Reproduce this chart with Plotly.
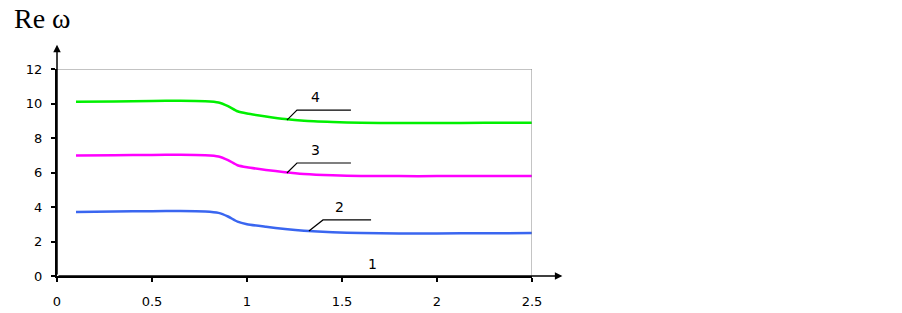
import plotly.graph_objects as go

x = [0.1, 0.3, 0.5, 0.65, 0.78, 0.85, 0.9, 0.95, 1.0, 1.1, 1.2, 1.3, 1.45, 1.6, 1.8, 2.0, 2.25, 2.5]
curve2 = [3.71, 3.74, 3.76, 3.77, 3.74, 3.66, 3.45, 3.15, 3.0, 2.85, 2.72, 2.62, 2.53, 2.49, 2.47, 2.47, 2.48, 2.49]
curve3 = [6.98, 7.0, 7.02, 7.03, 7.0, 6.93, 6.72, 6.42, 6.3, 6.15, 6.02, 5.92, 5.84, 5.8, 5.79, 5.79, 5.8, 5.8]
curve4 = [10.1, 10.12, 10.15, 10.16, 10.13, 10.06, 9.85, 9.55, 9.42, 9.25, 9.1, 9.0, 8.93, 8.88, 8.87, 8.87, 8.88, 8.89]

curve_labels = ["2", "3", "4"]
label_text_x = [1.489, 1.363, 1.363]
label_text_y = [4.0, 7.3, 10.38]
leader_x = [[1.326, 1.40, 1.653], [1.21, 1.263, 1.547], [1.21, 1.263, 1.547]]
leader_y = [[2.61, 3.25, 3.25], [5.97, 6.55, 6.55], [9.04, 9.62, 9.62]]
colors = ["#3a66f0", "#ff00ff", "#00f000"]

x_ticks = [0, 0.5, 1, 1.5, 2, 2.5]
x_tick_text = ["0", "0.5", "1", "1.5", "2", "2.5"]
y_ticks = [0, 2, 4, 6, 8, 10, 12]

L, T, R, B = 57, 69, 902 - 532, 313 - 276
PW, PH = 902 - L - R, 313 - T - B

fig = go.Figure()
for ys, c in zip([curve2, curve3, curve4], colors):
    fig.add_trace(go.Scatter(x=x, y=ys, mode="lines", line=dict(color=c, width=2.5, shape="spline", smoothing=0.6),
                             hoverinfo="skip", showlegend=False))
for lx, ly in zip(leader_x, leader_y):
    fig.add_trace(go.Scatter(x=lx, y=ly, mode="lines", line=dict(color="black", width=1.2),
                             hoverinfo="skip", showlegend=False, cliponaxis=False))

annotations = []
for t, tx, ty in zip(curve_labels, label_text_x, label_text_y):
    annotations.append(dict(x=tx, y=ty, xref="x", yref="y", text=t, showarrow=False,
                            font=dict(family="DejaVu Sans", size=14, color="black")))
annotations.append(dict(x=1.663, y=0.7, xref="x", yref="y", text="1", showarrow=False,
                        font=dict(family="DejaVu Sans", size=14, color="black")))
# axis arrows
annotations.append(dict(x=0, y=13.4, xref="x", yref="y", ax=0, ay=0, axref="x", ayref="y",
                        showarrow=True, arrowhead=2, arrowsize=1, arrowwidth=1.5, arrowcolor="black", text=""))
annotations.append(dict(x=2.66, y=0, xref="x", yref="y", ax=0, ay=0, axref="x", ayref="y",
                        showarrow=True, arrowhead=2, arrowsize=1, arrowwidth=1.5, arrowcolor="black", text=""))
annotations.append(dict(xref="paper", yref="paper", x=(12 - 57) / PW, y=1 + (69 - 1) / PH,
                        text="Re ω", showarrow=False, xanchor="left", yanchor="top",
                        font=dict(family="Liberation Serif", size=28, color="black")))

fig.update_layout(
    width=902, height=313,
    margin=dict(l=L, r=R, t=T, b=B, autoexpand=False),
    plot_bgcolor="white", paper_bgcolor="white",
    annotations=annotations,
    xaxis=dict(range=[0, 2.5], tickvals=x_ticks, ticktext=x_tick_text, showgrid=False, zeroline=False,
               showline=True, linecolor="black", linewidth=2, ticks="outside", ticklen=4, tickwidth=2,
               tickcolor="black", ticklabelstandoff=8,
               tickfont=dict(family="DejaVu Sans", size=13, color="black")),
    yaxis=dict(range=[0, 12], tickvals=y_ticks, showgrid=False, zeroline=False,
               showline=True, linecolor="black", linewidth=2, ticks="outside", ticklen=4, tickwidth=2,
               tickcolor="black", ticklabelstandoff=6,
               tickfont=dict(family="DejaVu Sans", size=13, color="black")),
    shapes=[
        dict(type="line", xref="x", yref="y", x0=0, x1=2.5, y0=12, y1=12, line=dict(color="#888888", width=1)),
        dict(type="line", xref="x", yref="y", x0=2.5, x1=2.5, y0=0, y1=12, line=dict(color="#888888", width=1)),
    ],
)

fig.write_html("out.html", config={"displayModeBar": False},
               post_script="document.body.style.margin='0';")
